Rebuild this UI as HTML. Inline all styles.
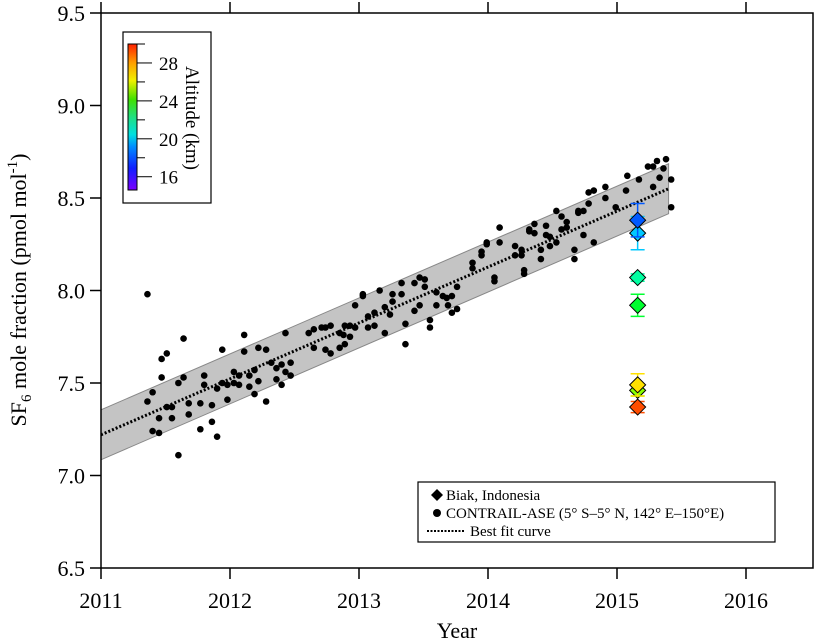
<!DOCTYPE html>
<html><head><meta charset="utf-8"><style>
body{margin:0;background:#fff}
svg{display:block;font-family:"Liberation Serif",serif}
</style></head><body>
<svg id="chart" width="826" height="641" viewBox="0 0 826 641" xmlns="http://www.w3.org/2000/svg">
<defs>
<linearGradient id="rainbow" x1="0" y1="1" x2="0" y2="0">
<stop offset="0" stop-color="#7a00ff"/><stop offset="0.15" stop-color="#1020ff"/><stop offset="0.3" stop-color="#0090ff"/><stop offset="0.38" stop-color="#00e0e0"/><stop offset="0.5" stop-color="#20e080"/><stop offset="0.62" stop-color="#40e000"/><stop offset="0.75" stop-color="#f0f000"/><stop offset="0.87" stop-color="#ffa000"/><stop offset="1" stop-color="#ff2000"/>
</linearGradient>
</defs>
<g id="plot"></g>
</svg>
<script>
const years=[2011.36,2011.64,2011.47,2011.51,2011.47,2011.40,2011.36,2011.40,2011.45,2011.45,2011.51,2011.55,2011.55,2011.60,2011.60,2011.64,2011.68,2011.68,2011.77,2011.77,2011.80,2011.80,2011.86,2011.86,2011.90,2011.90,2011.94,2011.94,2011.98,2011.98,2012.03,2012.03,2012.07,2012.07,2012.11,2012.11,2012.15,2012.15,2012.19,2012.19,2012.22,2012.22,2012.28,2012.28,2012.32,2012.36,2012.36,2012.40,2012.40,2012.43,2012.43,2012.47,2012.47,2012.61,2012.65,2012.65,2012.71,2012.74,2012.78,2012.74,2012.78,2012.85,2012.85,2012.89,2012.89,2012.93,2012.93,2012.97,2012.97,2012.88,2013.03,2013.03,2013.07,2013.07,2013.12,2013.12,2013.16,2013.20,2013.20,2013.24,2013.26,2013.26,2013.33,2013.33,2013.36,2013.36,2013.43,2013.43,2013.47,2013.47,2013.51,2013.51,2013.55,2013.55,2013.60,2013.60,2013.65,2013.68,2013.69,2013.72,2013.72,2013.76,2013.76,2013.88,2013.88,2013.95,2013.95,2013.99,2013.99,2014.05,2014.05,2014.09,2014.09,2014.21,2014.21,2014.26,2014.26,2014.28,2014.28,2014.32,2014.32,2014.36,2014.36,2014.41,2014.41,2014.45,2014.45,2014.48,2014.48,2014.53,2014.53,2014.57,2014.57,2014.61,2014.61,2014.67,2014.67,2014.70,2014.70,2014.74,2014.74,2014.78,2014.78,2014.82,2014.82,2014.91,2014.91,2014.99,2015.07,2015.08,2015.17,2015.24,2015.28,2015.31,2015.28,2015.33,2015.38,2015.36,2015.42,2015.42];
const values=[7.98,7.74,7.63,7.66,7.53,7.45,7.40,7.24,7.23,7.31,7.37,7.37,7.31,7.11,7.50,7.53,7.39,7.33,7.39,7.25,7.54,7.49,7.38,7.29,7.21,7.47,7.68,7.50,7.49,7.41,7.56,7.50,7.54,7.49,7.76,7.67,7.54,7.48,7.57,7.44,7.69,7.51,7.68,7.40,7.61,7.58,7.52,7.60,7.49,7.77,7.56,7.61,7.54,7.77,7.79,7.69,7.80,7.80,7.81,7.68,7.66,7.77,7.69,7.71,7.81,7.81,7.75,7.92,7.80,7.76,7.98,7.97,7.86,7.80,7.88,7.81,8.00,7.91,7.77,7.87,7.98,7.94,8.04,7.98,7.82,7.71,8.04,7.89,8.07,7.92,8.06,8.02,7.84,7.80,7.99,7.92,7.97,7.96,7.92,7.97,7.88,7.90,8.02,8.15,8.12,8.21,8.19,8.26,8.25,8.07,8.05,8.34,8.26,8.24,8.19,8.22,8.19,8.11,8.09,8.33,8.32,8.36,8.31,8.22,8.17,8.35,8.30,8.29,8.24,8.26,8.43,8.40,8.33,8.37,8.34,8.22,8.17,8.43,8.42,8.43,8.30,8.53,8.47,8.54,8.26,8.56,8.50,8.45,8.54,8.62,8.60,8.67,8.67,8.70,8.56,8.61,8.71,8.66,8.60,8.45];
const biakValues=[7.46,7.49,7.37,7.92,8.07,8.31,8.38];
const biakErrors=[0.03,0.06,0.03,0.06,0.02,0.09,0.09];
const biakAltitude=[25,27,29,22.5,21,19,17.5];
const biakYear=2015.16;
const fitStart=[2011,7.22];
const fitEnd=[2015.4,8.55];
const bandHalf=0.135;
const xTicks=[2011,2012,2013,2014,2015,2016];
const yTicks=[6.5,7.0,7.5,8.0,8.5,9.0,9.5];
const cbTicks=[16,20,24,28];

const NS='http://www.w3.org/2000/svg';
const X0=101,X1=813,Y0=568,Y1=13;
const xs=v=>X0+(v-2011)*129;
const ys=v=>Y0-(v-6.5)*185;
const g=document.getElementById('plot');
function mk(t,a,p){const e=document.createElementNS(NS,t);for(const k in a)e.setAttribute(k,a[k]);(p||g).appendChild(e);return e;}
function altColor(a){const t=Math.max(0,Math.min(1,(a-14.6)/(30-14.6)));return 'hsl('+Math.round(270*(1-t))+',100%,50%)';}

const band=mk('polygon',{points:[xs(fitStart[0])+','+ys(fitStart[1]+bandHalf),xs(fitEnd[0])+','+ys(fitEnd[1]+bandHalf),xs(fitEnd[0])+','+ys(fitEnd[1]-bandHalf),xs(fitStart[0])+','+ys(fitStart[1]-bandHalf)].join(' '),fill:'#c4c4c4',stroke:'#888','stroke-width':1});


const fit=mk('line',{x1:xs(fitStart[0]),y1:ys(fitStart[1]),x2:xs(fitEnd[0]),y2:ys(fitEnd[1]),stroke:'#000','stroke-width':3,'stroke-dasharray':'2 2'});


for(let i=0;i<years.length;i++){
 const c=mk('circle',{cx:xs(years[i]),cy:ys(values[i]),r:3.3,fill:'#000'});
 
 
}
for(let i=0;i<biakValues.length;i++){
 const col=altColor(biakAltitude[i]);const x=xs(biakYear),y=ys(biakValues[i]);
 const yt=ys(biakValues[i]+biakErrors[i]),yb=ys(biakValues[i]-biakErrors[i]);
 const eb=mk('path',{d:`M${x},${yt}V${yb}M${x-7},${yt}H${x+7}M${x-7},${yb}H${x+7}`,stroke:col,'stroke-width':1.5,fill:'none'});
 
 
 const d=mk('polygon',{points:`${x},${y-8} ${x+8},${y} ${x},${y+8} ${x-8},${y}`,fill:col,stroke:'#000','stroke-width':1});
 
 
}
const fr=mk('rect',{x:X0,y:Y1,width:X1-X0,height:Y0-Y1,fill:'none',stroke:'#000','stroke-width':1.5});


for(const t of xTicks){
 mk('line',{x1:xs(t),x2:xs(t),y1:Y0,y2:Y0+11,stroke:'#000','stroke-width':1.5});
 mk('line',{x1:xs(t),x2:xs(t),y1:Y1,y2:Y1-11,stroke:'#000','stroke-width':1.5});
 const tx=mk('text',{x:xs(t),y:Y0+40,'font-size':22,'text-anchor':'middle'});tx.textContent=t;
 
 
}
for(const t of yTicks){
 mk('line',{x1:X0-11,x2:X0,y1:ys(t),y2:ys(t),stroke:'#000','stroke-width':1.5});
 const tx=mk('text',{x:X0-16,y:ys(t)+8,'font-size':22,'text-anchor':'end'});tx.textContent=t.toFixed(1);
 
 
}
const cbb=mk('rect',{x:123,y:32,width:88,height:171,fill:'#fff',stroke:'#000','stroke-width':1.2});


const cb=mk('rect',{x:128,y:44,width:9,height:146,fill:'url(#rainbow)',stroke:'#000','stroke-width':1});


const cy=a=>190-(a-14.6)*(146/15.4);
for(let a=16;a<=30;a+=2){mk('line',{x1:137,x2:(a%4==0)?152:145,y1:cy(a),y2:cy(a),stroke:'#000','stroke-width':1});}
for(const t of cbTicks){const tx=mk('text',{x:159,y:cy(t)+7,'font-size':19});tx.textContent=t;
 
 }
</script>
<svg style="position:absolute;left:0;top:0" width="826" height="641">
<text transform="translate(186,118) rotate(90)" text-anchor="middle" font-size="19" font-family="Liberation Serif,serif">Altitude (km)</text>
<text x="457" y="638" text-anchor="middle" font-size="22" font-family="Liberation Serif,serif">Year</text>
<text transform="translate(26,290) rotate(-90)" text-anchor="middle" font-size="22" font-family="Liberation Serif,serif">SF<tspan font-size="15" dy="5">6</tspan><tspan dy="-5"> mole fraction (pmol mol</tspan><tspan font-size="15" dy="-9">-1</tspan><tspan dy="9">)</tspan></text>
<g font-family="Liberation Serif,serif" font-size="15">
<rect x="418" y="482" width="357" height="60" fill="#fff" stroke="#000" stroke-width="1.2"/>
<polygon points="437,489 443,495 437,501 431,495" fill="#000"/>
<text x="446" y="500">Biak, Indonesia</text>
<circle cx="437" cy="513" r="4" fill="#000"/>
<text x="446" y="518">CONTRAIL-ASE (5° S–5° N, 142° E–150°E)</text>
<line x1="427" y1="531" x2="464" y2="531" stroke="#000" stroke-width="2" stroke-dasharray="2 1.5"/>
<text x="470" y="536">Best fit curve</text>
</g>
</svg>
</body></html>
